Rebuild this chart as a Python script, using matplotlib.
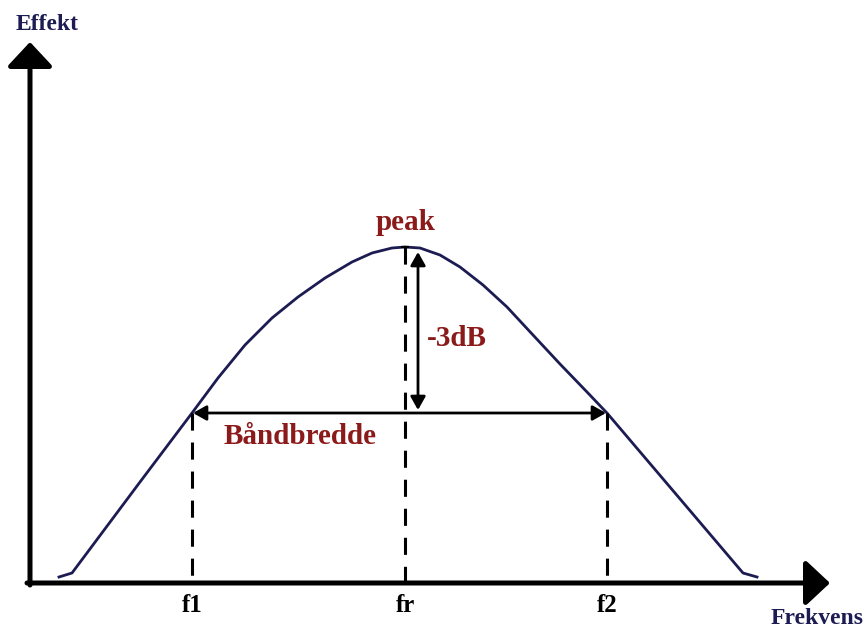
import matplotlib.pyplot as plt

# curve (frequency, power), arbitrary units
freq = [2.9, 4.2, 11.0, 16.2, 18.8, 21.5, 24.2, 26.8, 29.5, 32.2, 34.2,
        36.2, 37.5, 39.0, 41.0, 43.0, 45.3, 47.7, 50.3, 53.0, 55.7, 57.7,
        64.5, 71.3, 72.7]
power = [0.6, 1.0, 10.1, 17.0, 20.5, 23.8, 26.5, 28.6, 30.5, 32.1, 33.0,
         33.5, 33.6, 33.5, 32.8, 31.6, 29.8, 27.6, 24.8, 21.9, 19.1, 17.0,
         9.0, 1.0, 0.6]

f1, fr, f2 = 16.2, 37.5, 57.7
peak = 33.6
half = 17.0
freq_labels = ['f1', 'fr', 'f2']

navy = '#1c1c52'
red = '#8b1a1a'
serif = 'Liberation Serif'

fig = plt.figure(figsize=(8.65, 6.31), dpi=100)
ax = fig.add_axes([0, 0, 1, 1])
ax.set_xlim(-3.0, 83.5)
ax.set_ylim(-4.8, 58.3)
ax.axis('off')

# axes with arrows
big_head = '-|>,head_length=1.5,head_width=1.4'
ax.annotate('', xy=(80.0, 0), xytext=(-0.3, 0),
            arrowprops=dict(arrowstyle=big_head, lw=3.6, color='black',
                            shrinkA=0, shrinkB=0, mutation_scale=10))
ax.annotate('', xy=(0, 54.1), xytext=(0, -0.2),
            arrowprops=dict(arrowstyle=big_head, lw=3.6, color='black',
                            shrinkA=0, shrinkB=0, mutation_scale=10))

# curve
ax.plot(freq, power, color=navy, lw=2.0, solid_joinstyle='round')

# dashed lines
for f, top in [(f1, half), (fr, peak), (f2, half)]:
    ax.plot([f, f], [top, 0], color='black', lw=2.2, dashes=(5.6, 3.9))
ax.plot([fr - 0.3, fr + 0.3], [peak, peak], color='black', lw=1.5)

# bandwidth and -3dB arrows
small_head = '<|-|>,head_length=0.8,head_width=0.45'
ax.annotate('', xy=(f1 + 0.1, half), xytext=(f2 - 0.1, half),
            arrowprops=dict(arrowstyle=small_head, lw=2.0, color='black',
                            shrinkA=0, shrinkB=0, mutation_scale=10))
ax.annotate('', xy=(38.8, peak - 0.5), xytext=(38.8, half + 0.3),
            arrowprops=dict(arrowstyle=small_head, lw=2.0, color='black',
                            shrinkA=0, shrinkB=0, mutation_scale=10))

# text
ax.text(1.7, 55.9, 'Effekt', color=navy, fontsize=17, fontweight='bold',
        family=serif, ha='center', va='center')
ax.text(83.4, -3.5, 'Frekvens', color=navy, fontsize=17, fontweight='bold',
        family=serif, ha='right', va='center')
ax.text(37.6, 36.0, 'peak', color=red, fontsize=21, fontweight='bold',
        family=serif, ha='center', va='center')
ax.text(42.7, 24.4, '-3dB', color=red, fontsize=21, fontweight='bold',
        family=serif, ha='center', va='center')
ax.text(27.0, 14.6, 'Båndbredde', color=red, fontsize=21, fontweight='bold',
        family=serif, ha='center', va='center')
for f, lab in zip([f1, fr, f2], freq_labels):
    ax.text(f, -2.3, lab, color='black', fontsize=18, fontweight='bold',
            family=serif, ha='center', va='center')

fig.savefig('out.png', dpi=100)
